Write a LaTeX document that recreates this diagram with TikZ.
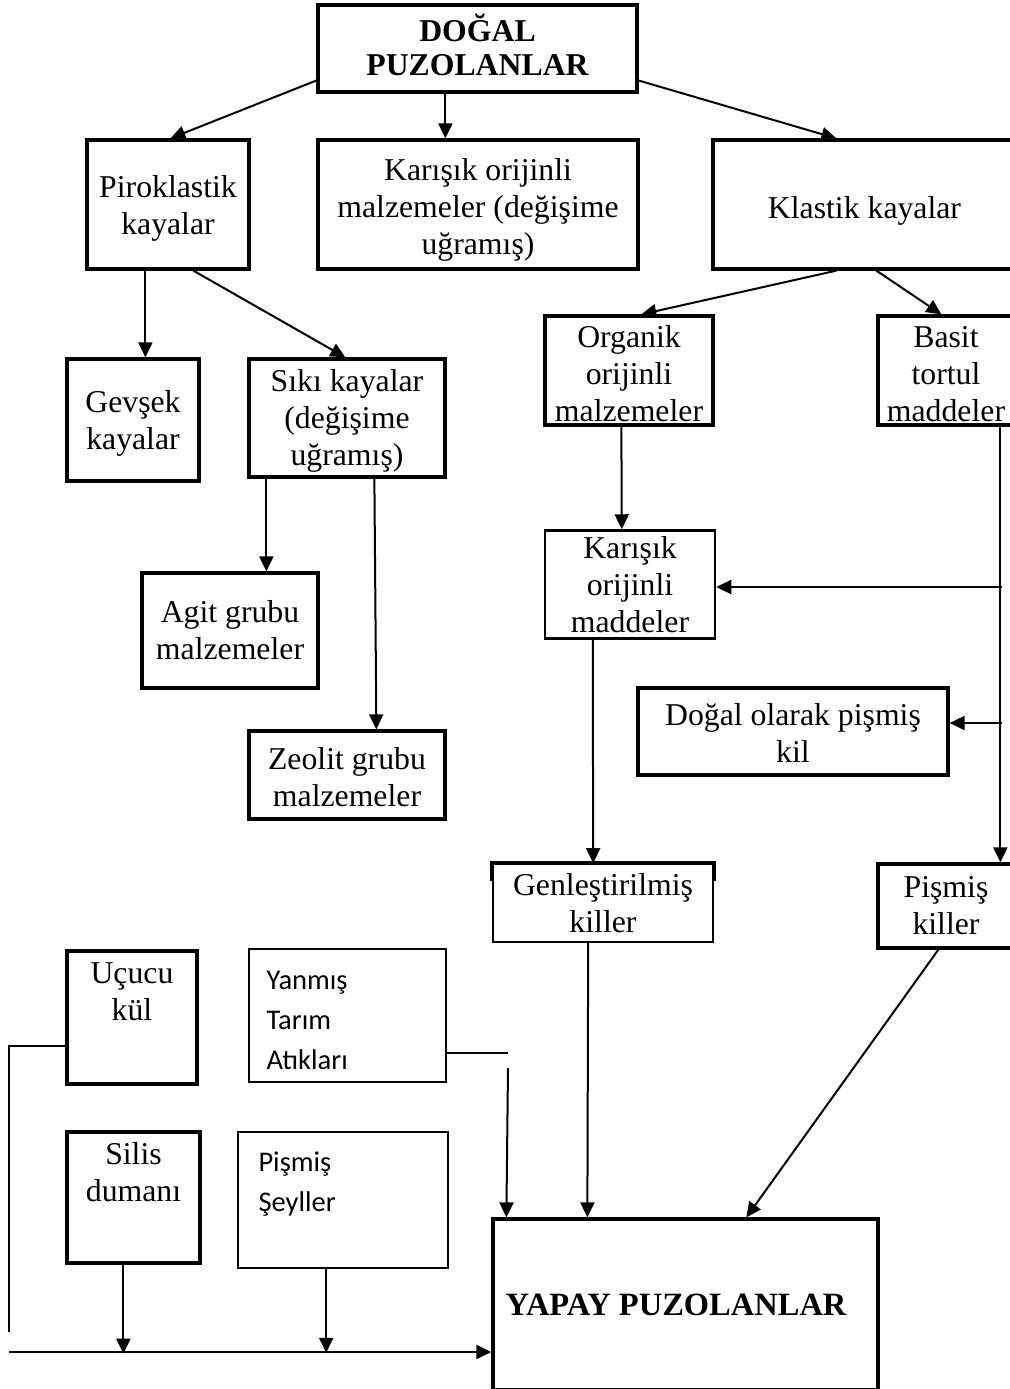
\documentclass[tikz,border=0pt]{standalone}
\usepackage{fontspec}
\setmainfont{Liberation Serif}
\newfontfamily\calfont{Carlito}
\usetikzlibrary{arrows.meta,calc}
\tikzset{
  box/.style={draw, line width=1.3pt, inner sep=0pt},
  thinbox/.style={box, line width=0.65pt},
  wh/.style 2 args={minimum width={#1*0.4pt}, minimum height={#2*0.4pt}},
  txt/.style={inner sep=0pt, align=center, font=\fontsize{12.7}{14.8}\selectfont},
  btxt/.style={txt, font=\bfseries\fontsize{12.7}{13.6}\selectfont},
  caltxt/.style={inner sep=0pt, align=left, font=\calfont\fontsize{11.4}{16}\selectfont},
  conn/.style={line width=0.8pt},
  arr/.style={conn, -{Triangle[length=6pt,width=5.6pt]}}
}
\begin{document}
\begin{tikzpicture}[x=0.4pt,y=-0.4pt]
\useasboundingbox (0,0) rectangle (1010,1389);
% boxes
\node[box, wh={319}{87}] (dogal) at (477.5,48.5) {};
\node[btxt] (dogalt) at ($(dogal)+(0,-4)$) {DOĞAL\\PUZOLANLAR};
\node[box, wh={162}{129}] (piro) at (168,204.5) {};
\node[txt] (pirot) at ($(piro)+(0,4)$) {Piroklastik\\kayalar};
\node[box, wh={320}{129}] (karisik) at (478,204.5) {};
\node[txt] (karisikt) at ($(karisik)+(0,5)$) {Karışık orijinli\\malzemeler (değişime\\uğramış)};
\node[box, wh={301}{129}] (klastik) at (863.5,204.5) {};
\node[txt] (klastikt) at ($(klastik)+(1,6)$) {Klastik kayalar};
\node[box, wh={132}{122}] (gevsek) at (133,420) {};
\node[txt] (gevsekt) at ($(gevsek)+(0,3.5)$) {Gevşek\\kayalar};
\node[box, wh={196}{118}] (siki) at (347,418) {};
\node[txt] (sikit) at ($(siki)+(0,3)$) {Sıkı kayalar\\(değişime\\uğramış)};
\node[box, wh={168}{109}] (organik) at (629,370.5) {};
\node[txt] (organikt) at ($(organik)+(0,3.5)$) {Organik\\orijinli\\malzemeler};
\node[box, wh={136}{109}] (basit) at (946,370.5) {};
\node[txt] (basitt) at ($(basit)+(0,4)$) {Basit\\tortul\\maddeler};
\node[box, wh={176}{115}] (agit) at (230,630.5) {};
\node[txt] (agitt) at (agit) {Agit grubu\\malzemeler};
\node[box, wh={196}{88}] (zeolit) at (347,775) {};
\node[txt] (zeolitt) at ($(zeolit)+(0,2.5)$) {Zeolit grubu\\malzemeler};
\node[box, line width=1.0pt, wh={170}{108}] (kmad) at (630,584.5) {};
\node[txt] (kmadt) at (kmad) {Karışık\\orijinli\\maddeler};
\node[box, wh={310}{87}] (dopk) at (793,731.5) {};
\node[txt] (dopkt) at ($(dopk)+(0,1)$) {Doğal olarak pişmiş\\kil};
\node[thinbox, wh={220}{78}] (genl) at (603,903) {};
\draw[line width=1.5pt] ($(genl.north west)+(0,18)$) -- (genl.north west) -- (genl.north east) -- ++(0,18);
\node[txt] (genlt) at (genl) {Genleştirilmiş\\killer};
\node[box, wh={136}{84}] (pkill) at (946,906) {};
\node[txt] (pkillt) at (pkill) {Pişmiş\\killer};
\node[box, wh={130}{133}] (ucucu) at (132,1017.5) {};
\node[txt, anchor=north] (ucucut) at (132,962) {Uçucu\\kül};
\node[thinbox, wh={197}{133}] (yanmis) at (347.5,1015.5) {};
\node[caltxt, anchor=north west] (yanmist) at (266,971) {Yanmış\\Tarım\\Atıkları};
\node[box, wh={133}{131}] (silis) at (133.5,1197.5) {};
\node[txt, anchor=north] (silist) at (133.5,1142) {Silis\\dumanı};
\node[thinbox, wh={210}{136}] (seyller) at (343,1200) {};
\node[caltxt, anchor=north west] (seyllert) at (258,1151) {Pişmiş\\Şeyller};
\node[box, wh={385}{171}] (yapay) at (685.5,1304.5) {};
\node[btxt, anchor=west, font=\bfseries\fontsize{13}{14}\selectfont] (yapayt) at (505,1305) {YAPAY PUZOLANLAR};
% connectors
\draw[arr] ($(dogal.west)+(0,32)$) -- ($(piro.north west)+(85,0)$);
\draw[arr] ($(dogal.south west)+(129,0)$) -- ($(karisik.north west)+(129,0)$);
\draw[arr] ($(dogal.east)+(0,32)$) -- ($(klastik.north west)+(125,0)$);
\draw[arr] ($(piro.south west)+(60,0)$) -- ($(gevsek.north west)+(80,0)$);
\draw[arr] ($(piro.south west)+(108,0)$) -- ($(siki.north west)+(98,0)$);
\draw[arr] ($(klastik.south west)+(125,0)$) -- ($(organik.north west)+(98,0)$);
\draw[arr] ($(klastik.south west)+(165,0)$) -- ($(basit.north west)+(65,0)$);
\draw[arr] ($(siki.south west)+(19,0)$) -- ($(agit.north west)+(126,0)$);
\draw[arr] ($(siki.south west)+(127,0)$) -- ($(zeolit.north west)+(129,0)$);
\draw[arr] ($(organik.south west)+(78,0)$) -- ($(kmad.north west)+(78,0)$);
\draw[arr] ($(basit.south west)+(124,0)$) -- ($(pkill.north west)+(124,0)$);
\coordinate (br1) at (1002,587);
\coordinate (br2) at (1002,723);
\draw[arr] (br1) -- (kmad.east |- br1);
\draw[arr] (br2) -- (dopk.east |- br2);
\draw[arr] ($(kmad.south west)+(49,0)$) -- ($(genl.north west)+(101,0)$);
\draw[arr] ($(genl.south west)+(96,0)$) -- ($(yapay.north west)+(96,0)$);
\draw[arr] ($(pkill.south west)+(62,0)$) -- ($(yapay.north west)+(255,0)$);
\coordinate (ystub) at (508,1052.5);
\coordinate (ystart) at (508,1068);
\draw[conn] ($(yanmis.east)+(0,37)$) -- (ystub);
\draw[arr] (ystart) -- ($(yapay.north west)+(15,0)$);
\coordinate (uend) at (9,1332);
\draw[conn] ($(ucucu.west)+(0,28)$) -| (uend);
\coordinate (bstart) at (9,1352);
\draw[arr] (bstart) -- (yapay.west |- bstart);
\draw[arr] ($(silis.south west)+(58,0)$) -- ($(silis.south west)+(58,89)$);
\draw[arr] ($(seyller.south west)+(89,0)$) -- ($(seyller.south west)+(89,84)$);
\end{tikzpicture}
\end{document}
